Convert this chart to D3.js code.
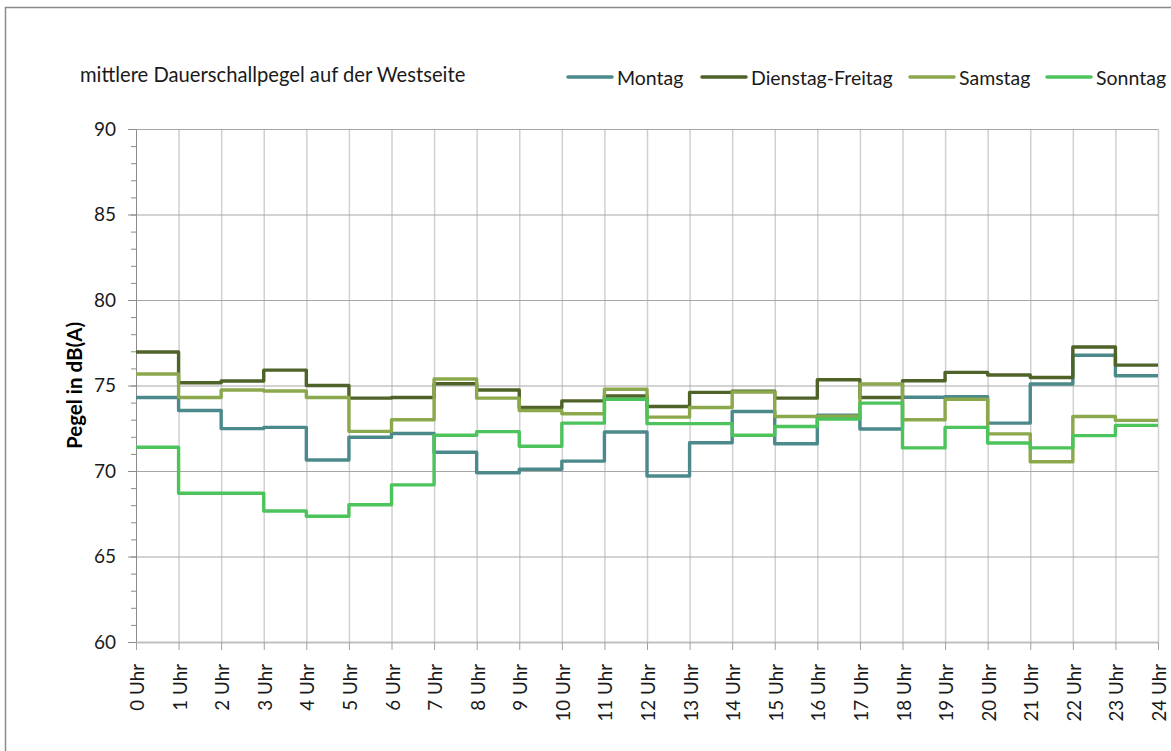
<!DOCTYPE html>
<html>
<head>
<meta charset="utf-8">
<script src="https://cdn.jsdelivr.net/npm/d3@7"></script>
<style>
  body { margin: 0; background: #fff; }
  svg { display: block; font-family: Lato, sans-serif; }
</style>
</head>
<body>
<svg id="chart" width="1171" height="751"></svg>
<script>
// hours 0..23, each value holds for one hour (step chart)
const hours = d3.range(0, 24);
const hourLabels = d3.range(0, 25).map(h => h + ' Uhr');
const yTicks = [60, 65, 70, 75, 80, 85, 90];

const montag = [74.3, 73.54, 72.48, 72.55, 70.64, 71.97, 72.19, 71.1, 69.9, 70.1, 70.58, 72.28,
  69.71, 71.65, 73.48, 71.59, 73.26, 72.46, 74.31, 74.35, 72.8, 75.09, 76.77, 75.57];
const dienstagFreitag = [76.96, 75.16, 75.26, 75.9, 75.0, 74.26, 74.3, 75.1, 74.74, 73.71, 74.1, 74.39,
  73.77, 74.6, 74.66, 74.26, 75.34, 74.3, 75.28, 75.77, 75.61, 75.47, 77.25, 76.19];
const samstag = [75.67, 74.3, 74.74, 74.68, 74.3, 72.32, 73.0, 75.38, 74.26, 73.54, 73.35, 74.78,
  73.15, 73.71, 74.62, 73.19, 73.2, 75.09, 73.0, 74.2, 72.17, 70.54, 73.19, 72.96];
const sonntag = [71.39, 68.7, 68.7, 67.66, 67.35, 68.03, 69.19, 72.09, 72.3, 71.45, 72.8, 74.2,
  72.77, 72.77, 72.09, 72.6, 73.04, 73.97, 71.35, 72.55, 71.64, 71.35, 72.07, 72.67];

const seriesNames = ['Montag', 'Dienstag-Freitag', 'Samstag', 'Sonntag'];
const seriesValues = [montag, dienstagFreitag, samstag, sonntag];
const colors = ['#4b898b', '#4f6228', '#8ba84c', '#4dc35b'];

const svg = d3.select('#chart');
const x = d3.scaleLinear().domain([0, 24]).range([136, 1158]);
const y = d3.scaleLinear().domain([60, 90]).range([642, 129]);

// chart frame
svg.append('rect')
  .attr('x', 5.5).attr('y', 7.5)
  .attr('width', 1300).attr('height', 900)
  .attr('fill', 'none').attr('stroke', '#8a8a8a').attr('stroke-width', 1.5);

// title
svg.append('text')
  .attr('x', 80).attr('y', 82)
  .attr('font-size', 20.2).attr('fill', '#1a1a1a')
  .text('mittlere Dauerschallpegel auf der Westseite');

// vertical gridlines
svg.append('g')
  .attr('transform', `translate(0,${y(60)})`)
  .call(d3.axisBottom(x).tickValues(d3.range(1, 25)).tickSize(-(y(60) - y(90))).tickFormat(''))
  .call(g => g.select('.domain').remove())
  .call(g => g.selectAll('line').attr('stroke', '#d0d0d0').attr('stroke-width', 1.5));

// horizontal gridlines
svg.append('g')
  .attr('transform', `translate(${x(0)},0)`)
  .call(d3.axisLeft(y).tickValues(yTicks.slice(1)).tickSize(-(x(24) - x(0))).tickFormat(''))
  .call(g => g.select('.domain').remove())
  .call(g => g.selectAll('line').attr('stroke', '#a6a6a6').attr('stroke-width', 1));

// y axis minor ticks
svg.append('g')
  .attr('transform', `translate(${x(0)},0)`)
  .call(d3.axisLeft(y).tickValues(d3.range(60, 91)).tickSize(5).tickFormat(''))
  .call(g => g.select('.domain').remove())
  .call(g => g.selectAll('line').attr('stroke', '#8c8c8c'));

// y axis
const yAxis = svg.append('g')
  .attr('transform', `translate(${x(0)},0)`)
  .call(d3.axisLeft(y).tickValues(yTicks).tickSize(8).tickPadding(12).tickSizeOuter(0));
yAxis.select('.domain').attr('stroke', '#8c8c8c');
yAxis.selectAll('line').attr('stroke', '#8c8c8c');
yAxis.selectAll('text')
  .attr('font-size', 19).attr('font-family', 'Lato, sans-serif').attr('fill', '#1a1a1a');

// x axis
const xAxis = svg.append('g')
  .attr('transform', `translate(0,${y(60)})`)
  .call(d3.axisBottom(x).tickValues(d3.range(0, 25)).tickSize(8).tickSizeOuter(0)
    .tickFormat(d => hourLabels[d]));
xAxis.select('.domain').attr('stroke', '#bfbfbf').attr('stroke-width', 2);
xAxis.selectAll('line').attr('stroke', '#a0a0a0');
xAxis.selectAll('text')
  .attr('font-size', 18.8).attr('font-family', 'Lato, sans-serif').attr('fill', '#1a1a1a')
  .attr('text-anchor', 'end')
  .attr('dominant-baseline', 'central')
  .attr('transform', 'rotate(-90)')
  .attr('x', -22).attr('y', 0).attr('dy', null);

// y axis title
svg.append('text')
  .attr('transform', `translate(74,${y(75)}) rotate(-90)`)
  .attr('text-anchor', 'middle')
  .attr('dominant-baseline', 'central')
  .attr('font-size', 20.5).attr('font-weight', 'bold').attr('fill', '#000')
  .text('Pegel in dB(A)');

// series as step lines
const line = d3.line()
  .x(d => x(d[0]))
  .y(d => y(d[1]))
  .curve(d3.curveStepAfter);

seriesValues.forEach((vals, i) => {
  const pts = hours.map(h => [h, vals[h]]);
  pts.push([24, vals[23]]);
  svg.append('path')
    .datum(pts)
    .attr('d', line)
    .attr('fill', 'none')
    .attr('stroke', colors[i])
    .attr('stroke-width', 3.4)
    .attr('stroke-linejoin', 'round');
});

// legend
const legendX = [568, 702, 910, 1047];
const legend = svg.append('g');
seriesNames.forEach((name, i) => {
  legend.append('line')
    .attr('x1', legendX[i]).attr('x2', legendX[i] + 44)
    .attr('y1', 77).attr('y2', 77)
    .attr('stroke', colors[i]).attr('stroke-width', 3.5).attr('stroke-linecap', 'round');
  legend.append('text')
    .attr('x', legendX[i] + 49).attr('y', 77)
    .attr('dominant-baseline', 'central')
    .attr('font-size', 19.5).attr('fill', '#1a1a1a')
    .text(name);
});
</script>
</body>
</html>
